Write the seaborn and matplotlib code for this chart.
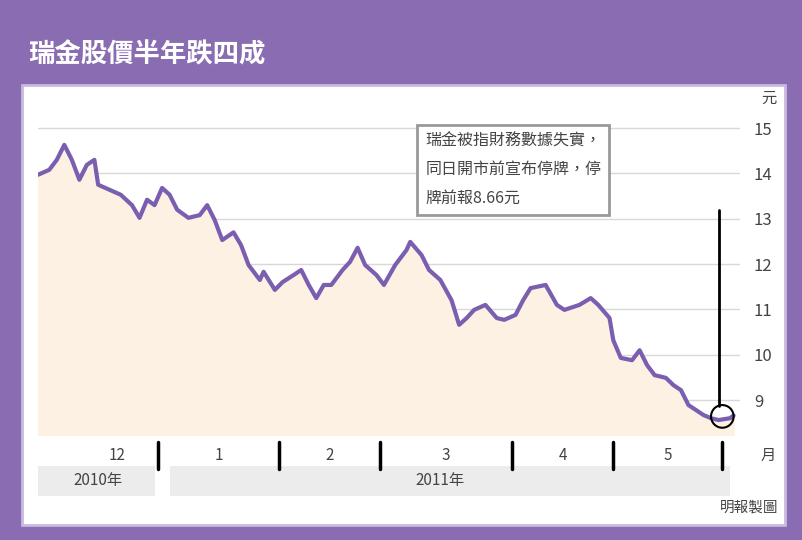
import numpy as np
import pandas as pd
import matplotlib
matplotlib.use('Agg')
import matplotlib.pyplot as plt
import seaborn as sns
from matplotlib.patches import Rectangle, Ellipse

sns.set_style('white')
plt.rcParams['font.family'] = ['Noto Sans CJK TC', 'DejaVu Sans']

# days since 1 Dec 2010 (approx) and closing price (HK$)
days = [0, 3, 5, 7, 9, 11, 13, 15, 16, 19, 22, 25, 27, 29, 31, 33, 35, 37, 40, 43,
        45, 47, 49, 52, 54, 56, 59, 60, 63, 65, 68, 70, 72, 74, 76, 78, 81, 83, 85, 87,
        90, 92, 95, 98, 99, 102, 104, 107, 110, 112, 114, 116, 119, 122, 124, 127, 129,
        131, 135, 138, 140, 144, 147, 149, 152, 153, 155, 158, 160, 162, 164, 167, 169,
        171, 173, 175, 177, 179, 181, 184, 185]
price = [13.97, 14.08, 14.3, 14.63, 14.3, 13.86, 14.19, 14.3, 13.75, 13.64, 13.53, 13.3,
         13.02, 13.42, 13.3, 13.68, 13.53, 13.2, 13.02, 13.08, 13.3, 12.97, 12.53, 12.7,
         12.42, 11.98, 11.65, 11.83, 11.43, 11.6, 11.76, 11.87, 11.54, 11.25, 11.54, 11.54,
         11.87, 12.05, 12.36, 11.98, 11.76, 11.54, 11.98, 12.31, 12.49, 12.2, 11.87, 11.65,
         11.2, 10.66, 10.81, 10.99, 11.1, 10.81, 10.77, 10.88, 11.2, 11.47, 11.54, 11.1,
         10.99, 11.1, 11.25, 11.1, 10.81, 10.32, 9.93, 9.88, 10.1, 9.77, 9.55, 9.49, 9.33,
         9.22, 8.89, 8.78, 8.67, 8.6, 8.56, 8.6, 8.66]
month_labels = ['12', '1', '2', '3', '4', '5']
month_bounds = [0, 32, 64, 91, 126, 153, 182]
y_ticks = [9, 10, 11, 12, 13, 14, 15]
note = '瑞金被指財務數據失實，\n同日開市前宣布停牌，停\n牌前報8.66元'

df = pd.DataFrame({'day': days, 'price': price})
purple = '#8a6cb2'

fig = plt.figure(figsize=(8.03, 5.40), dpi=100)
fig.patch.set_facecolor(purple)
bg = fig.add_axes([0, 0, 1, 1])
bg.set_axis_off()
bg.set_xlim(0, 803)
bg.set_ylim(540, 0)
bg.add_patch(Rectangle((22, 85), 763, 440, facecolor='white', edgecolor='#c9b8e0', lw=2))
bg.text(28, 55, '瑞金股價半年跌四成', color='white', fontsize=19, fontweight='bold', va='center')
bg.text(778, 508, '明報製圖', ha='right', va='center', fontsize=10.5, color='#444')

ax = fig.add_axes([38 / 803, 105 / 540, 702 / 803, 340 / 540])
ax.patch.set_alpha(0)
ax.set_xlim(0, 186.7)
ax.set_ylim(8.23, 15.73)
for v in y_ticks:
    ax.axhline(v, color='#d8d8d8', lw=1, zorder=0)
ax.fill_between(df['day'], df['price'], 8.23, color='#fdf1e4', zorder=1)
sns.lineplot(data=df, x='day', y='price', ax=ax, color='#7a5fb0', lw=3, zorder=3)
for s in ax.spines.values():
    s.set_visible(False)
ax.set_xlabel('')
ax.set_ylabel('')
ax.set_xticks([])
ax.yaxis.tick_right()
ax.set_yticks(y_ticks)
ax.set_yticklabels([str(v) for v in y_ticks], fontsize=12, color='#444')
ax.tick_params(axis='y', length=0, pad=10)
ax.text(1.03, 15.65, '元', transform=ax.get_yaxis_transform(), fontsize=11,
        color='#444', ha='left', va='center')

# annotation
last_x, last_y = days[-3], price[-3]
ax.add_patch(Ellipse((last_x + 1, last_y + 0.08), 6, 0.5, fill=False, ec='black', lw=1.5, zorder=5))
ax.plot([181, 181], [last_y + 0.3, 13.2], color='black', lw=2, zorder=4)
ax.text(103, 14.9, note, fontsize=11.5, color='#444', va='top', ha='left', linespacing=1.9,
        bbox=dict(boxstyle='square,pad=0.5', fc='white', ec='#999', lw=2), zorder=6)

# month row and year bands
trans = ax.get_xaxis_transform()
for i, m in enumerate(month_labels):
    ax.text((month_bounds[i] + month_bounds[i + 1]) / 2 + (5 if i == 0 else 0), -0.06, m,
            transform=trans, ha='center', va='center', fontsize=11, color='#444', clip_on=False)
for b in month_bounds[1:]:
    ax.plot([b, b], [-0.1, -0.02], transform=trans, color='black', lw=2.5, clip_on=False)
ax.text(1.03, -0.06, '月', transform=ax.transAxes, fontsize=11, color='#444', va='center')
ax.add_patch(Rectangle((0, -0.18), month_bounds[1] - 1, 0.09, transform=trans,
                       fc='#ececec', ec='none', clip_on=False))
ax.add_patch(Rectangle((month_bounds[1] + 3, -0.18), month_bounds[-1] - month_bounds[1] - 1, 0.09,
                       transform=trans, fc='#ececec', ec='none', clip_on=False))
ax.text(month_bounds[1] / 2, -0.135, '2010年', transform=trans, ha='center', va='center',
        fontsize=11, color='#444', clip_on=False)
ax.text((month_bounds[1] + month_bounds[-1]) / 2, -0.135, '2011年', transform=trans,
        ha='center', va='center', fontsize=11, color='#444', clip_on=False)

fig.savefig('out.png', dpi=100, facecolor=fig.get_facecolor())
